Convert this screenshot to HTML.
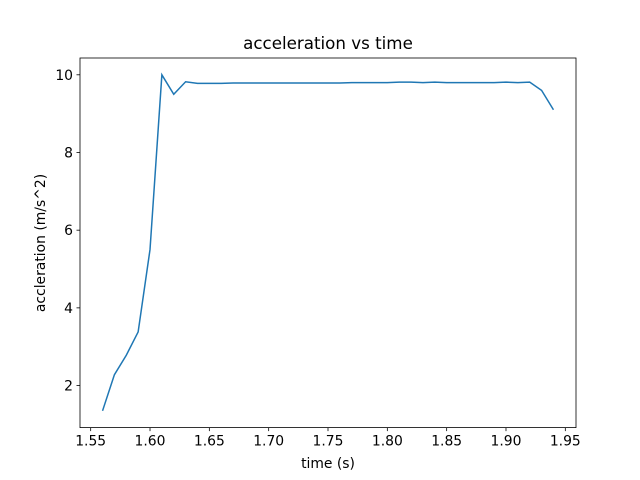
<!DOCTYPE html>
<html><head><meta charset="utf-8"><style>
body{margin:0;background:#fff;}
svg{display:block;font-family:"DejaVu Sans","Liberation Sans",sans-serif;}
</style></head><body>
<svg id="chart" width="640" height="480">
<rect width="640" height="480" fill="#fff"/>
<text x="328" y="49" text-anchor="middle" font-size="16.7">acceleration vs time</text>
<text x="328" y="468" text-anchor="middle" font-size="13.9">time (s)</text>
<text transform="translate(45,243) rotate(-90)" text-anchor="middle" font-size="13.9">accleration (m/s^2)</text>
<g id="ticks"></g>
<path id="line" fill="none" stroke="#1f77b4" stroke-width="1.5"/>
<rect x="80" y="58" width="496" height="369.6" fill="none" stroke="#000" stroke-width="0.8"/>
</svg>
<script>
const times=[1.56,1.57,1.58,1.59,1.60,1.61,1.62,1.63,1.64,1.65,1.66,1.67,1.68,1.69,1.70,1.71,1.72,1.73,1.74,1.75,1.76,1.77,1.78,1.79,1.80,1.81,1.82,1.83,1.84,1.85,1.86,1.87,1.88,1.89,1.90,1.91,1.92,1.93,1.94];
const accel=[1.35,2.28,2.78,3.38,5.5,10.0,9.5,9.82,9.78,9.78,9.78,9.79,9.79,9.79,9.79,9.79,9.79,9.79,9.79,9.79,9.79,9.8,9.8,9.8,9.8,9.81,9.81,9.8,9.81,9.8,9.8,9.8,9.8,9.8,9.81,9.8,9.81,9.6,9.1];
const xTicks=[1.55,1.60,1.65,1.70,1.75,1.80,1.85,1.90,1.95];
const yTicks=[2,4,6,8,10];
const L=80,R=576,T=58,B=427.6;
const xmin=Math.min(...times),xmax=Math.max(...times),xm=(xmax-xmin)*0.05;
const ymin=Math.min(...accel),ymax=Math.max(...accel),ym=(ymax-ymin)*0.05;
const X=v=>L+(v-(xmin-xm))/((xmax+xm)-(xmin-xm))*(R-L);
const Y=v=>B-(v-(ymin-ym))/((ymax+ym)-(ymin-ym))*(B-T);
const NS="http://www.w3.org/2000/svg";
const g=document.getElementById('ticks');
function mk(tag,attrs){const e=document.createElementNS(NS,tag);for(const k in attrs)e.setAttribute(k,attrs[k]);g.appendChild(e);return e;}
xTicks.forEach(t=>{
  const x=X(t);
  const l=mk('line',{x1:x,x2:x,y1:B,y2:B+3.5,stroke:'#000','stroke-width':0.8});
  
  
  const tx=mk('text',{x:x,y:B+18,'text-anchor':'middle','font-size':13.9});
  tx.textContent=t.toFixed(2);
  
  
});
yTicks.forEach(t=>{
  const y=Y(t);
  const l=mk('line',{x1:L-3.5,x2:L,y1:y,y2:y,stroke:'#000','stroke-width':0.8});
  
  
  const tx=mk('text',{x:L-7,y:y+5,'text-anchor':'end','font-size':13.9});
  tx.textContent=t;
  
  
});
document.getElementById('line').setAttribute('d',times.map((t,i)=>(i?'L':'M')+X(t).toFixed(2)+','+Y(accel[i]).toFixed(2)).join(''));
</script>
</body></html>
